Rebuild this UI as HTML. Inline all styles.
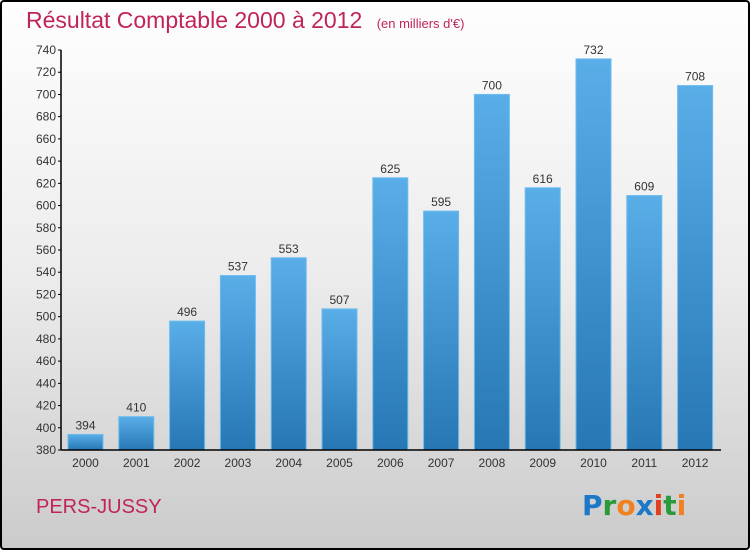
<!DOCTYPE html>
<html><head><meta charset="utf-8"><style>
body{margin:0;}
#wrap{width:750px;height:550px;position:relative;box-sizing:border-box;border:2px solid #000;border-radius:4px;background:linear-gradient(#fefefe,#ececec 50%,#cbcbcb);overflow:hidden;font-family:"Liberation Sans",sans-serif;}
</style></head><body>
<div id="wrap">
<svg id="chart" width="750" height="550" style="position:absolute;left:-2px;top:-2px">
<defs><linearGradient id="bg" x1="0" y1="0" x2="0" y2="1"><stop offset="0" stop-color="#5aaee8"/><stop offset="1" stop-color="#2677b4"/></linearGradient></defs>
<text x="26" y="28" font-size="23" fill="#c0245a">Résultat Comptable 2000 à 2012 <tspan font-size="13" dx="8">(en milliers d'€)</tspan></text>
<text x="36" y="513" font-size="20" fill="#c0245a">PERS-JUSSY</text>
<text x="582" y="515" font-size="28" font-family="'DejaVu Sans',sans-serif" font-weight="bold"><tspan fill="#1e78c8">P</tspan><tspan fill="#2a9a3a">r</tspan><tspan fill="#f08020">o</tspan><tspan fill="#1e78c8">x</tspan><tspan fill="#e04020">i</tspan><tspan fill="#2a9a3a">t</tspan><tspan fill="#f08020">i</tspan></text>
<g id="plot"></g>
</svg>
</div>
<script>
const years=["2000","2001","2002","2003","2004","2005","2006","2007","2008","2009","2010","2011","2012"];
const values=[394,410,496,537,553,507,625,595,700,616,732,609,708];
const yTicks=[380,400,420,440,460,480,500,520,540,560,580,600,620,640,660,680,700,720,740];
const yMin=380,yMax=740,y0=450,y1=50,xAxisL=61,xAxisR=721,firstBar=68,step=50.8,bw=35;
const ys=v=>y0-(v-yMin)/(yMax-yMin)*(y0-y1);
const ns="http://www.w3.org/2000/svg",g=document.getElementById('plot');
function mk(t,a){const e=document.createElementNS(ns,t);for(const k in a)e.setAttribute(k,a[k]);g.appendChild(e);return e;}
yTicks.forEach(v=>{
 const y=ys(v);
 const l=mk('line',{x1:58,x2:61,y1:y,y2:y,stroke:'#000'});
 
 
 const t=mk('text',{x:56,y:y+4,'text-anchor':'end','font-size':12,fill:'#333'});
 t.textContent=v;
 
 
});
values.forEach((v,i)=>{
 const x=firstBar+i*step,y=ys(v);
 const r=mk('rect',{x:x,y:y,width:bw,height:y0-y,fill:'url(#bg)',stroke:'#6cbcf0','stroke-width':1});
 
 
 const t=mk('text',{x:x+bw/2,y:y-5,'text-anchor':'middle','font-size':12,fill:'#333'});
 t.textContent=v;
 
 
 const xl=mk('text',{x:x+bw/2,y:467,'text-anchor':'middle','font-size':12,fill:'#333'});
 xl.textContent=years[i];
 
 
});
const ya=mk('line',{x1:61,x2:61,y1:y1,y2:y0,stroke:'#000','stroke-width':1.5});


const xa=mk('line',{x1:xAxisL,x2:xAxisR,y1:y0,y2:y0,stroke:'#000','stroke-width':1.5});


</script>
</body></html>
